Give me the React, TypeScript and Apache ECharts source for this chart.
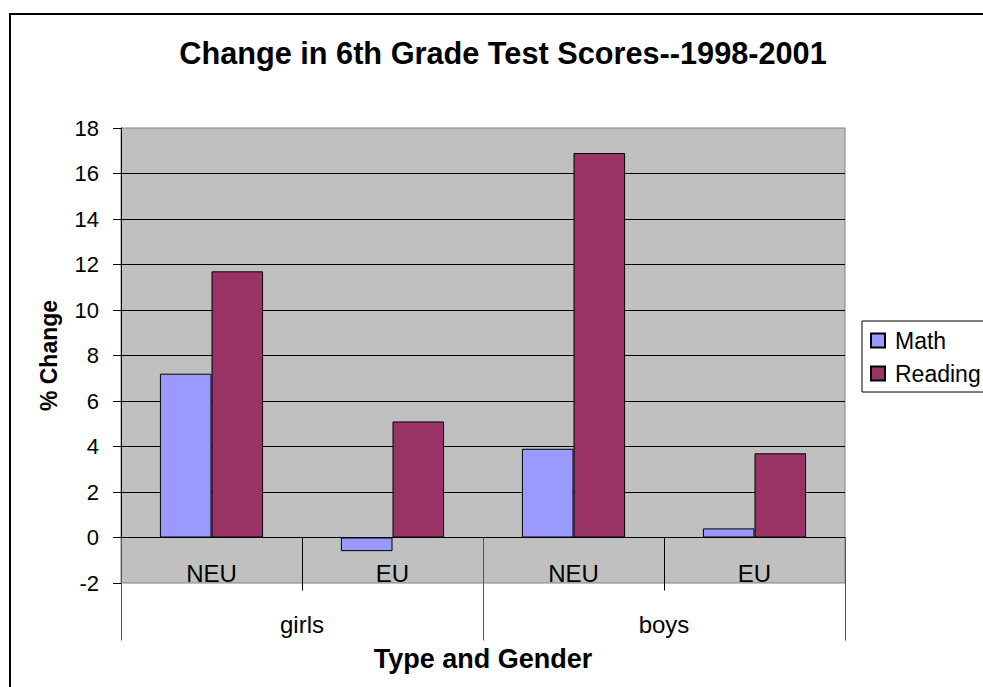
import React, { useEffect, useRef } from "react";
import * as echarts from "echarts";

const titleText = "Change in 6th Grade Test Scores--1998-2001";
const types = ["NEU", "EU", "NEU", "EU"];
const genders = ["girls", "boys"];
const mathValues = [7.2, -0.6, 3.9, 0.4];
const readingValues = [11.7, 5.1, 16.9, 3.7];
const seriesNames = ["Math", "Reading"];
const yMin = -2;
const yMax = 18;
const yStep = 2;

const FONT = '"Liberation Sans", Arial, sans-serif';

export default function App() {
  const ref = useRef<HTMLDivElement>(null);
  useEffect(() => {
    if (!ref.current) return;
    const chart = echarts.init(ref.current, undefined, { renderer: "svg" });
    chart.setOption({
      animation: false,
      backgroundColor: "#ffffff",
      textStyle: { fontFamily: FONT },
      grid: {
        left: 121,
        top: 128,
        width: 724,
        height: 455,
        containLabel: false,
        outerBoundsMode: "none",
        show: true,
        backgroundColor: "#c0c0c0",
        borderColor: "#808080",
        borderWidth: 1,
      },
      legend: {
        orient: "vertical",
        left: 862,
        top: 321,
        padding: [8, 30, 7, 8],
        itemWidth: 14,
        itemHeight: 14,
        itemGap: 10,
        icon: "rect",
        backgroundColor: "#ffffff",
        borderColor: "#000000",
        borderWidth: 1,
        borderRadius: 0,
        textStyle: { fontSize: 23, color: "#000", fontFamily: FONT, padding: [0, 0, 0, 5] },
        data: seriesNames,
      },
      xAxis: [
        {
          type: "category",
          data: types,
          axisLine: { onZero: true, lineStyle: { color: "#000", width: 1 } },
          axisTick: { show: true, interval: 0, length: 53, lineStyle: { color: "#000" } },
          axisLabel: { interval: 0, fontSize: 24, color: "#000", margin: -22, fontFamily: FONT },
          splitLine: { show: false },
        },
        {
          type: "category",
          data: genders,
          position: "bottom",
          axisLine: { show: false, onZero: true, onZeroAxisIndex: 0 },
          axisTick: { show: true, interval: 0, length: 103, lineStyle: { color: "#555" } },
          axisLabel: { interval: 0, fontSize: 24, color: "#000", margin: 29, fontFamily: FONT },
          splitLine: { show: false },
          name: "Type and Gender",
          nameLocation: "middle",
          nameGap: 62,
          nameMoveOverlap: false,
          nameTextStyle: { fontSize: 27, fontWeight: "bold", color: "#000", fontFamily: FONT },
        },
      ],
      yAxis: {
        type: "value",
        min: yMin,
        max: yMax,
        interval: yStep,
        axisLine: { show: true, lineStyle: { color: "#000" } },
        axisTick: { show: true, length: 8, lineStyle: { color: "#000" } },
        axisLabel: { fontSize: 22, color: "#000", margin: 22, fontFamily: FONT },
        splitLine: { show: true, showMinLine: false, showMaxLine: false, lineStyle: { color: "#000", width: 1 } },
        name: "% Change",
        nameLocation: "middle",
        nameRotate: 90,
        nameGap: 61,
        nameMoveOverlap: false,
        nameTextStyle: { fontSize: 23, fontWeight: "bold", color: "#000", fontFamily: FONT },
      },
      series: [
        {
          name: seriesNames[0],
          type: "bar",
          xAxisIndex: 0,
          data: mathValues,
          barGap: "0%",
          barCategoryGap: "43%",
          itemStyle: { color: "#9999ff", borderColor: "#000", borderWidth: 1 },
        },
        {
          name: seriesNames[1],
          type: "bar",
          xAxisIndex: 0,
          data: readingValues,
          barGap: "0%",
          barCategoryGap: "43%",
          itemStyle: { color: "#993366", borderColor: "#000", borderWidth: 1 },
        },
      ],
      graphic: [
        {
          type: "rect",
          shape: { x: 10, y: 14, width: 1100, height: 800 },
          style: { fill: "none", stroke: "#000", lineWidth: 2 },
          silent: true,
          z: 100,
        },
        {
          type: "text",
          x: 503,
          y: 53,
          style: {
            text: titleText,
            font: `bold 30.7px ${FONT}`,
            fill: "#000",
            textAlign: "center",
            textVerticalAlign: "middle",
          },
        },
      ],
    });
    return () => chart.dispose();
  }, []);
  return (
    <div
      ref={ref}
      style={{ position: "fixed", left: 0, top: 0, width: 983, height: 687 }}
    />
  );
}
